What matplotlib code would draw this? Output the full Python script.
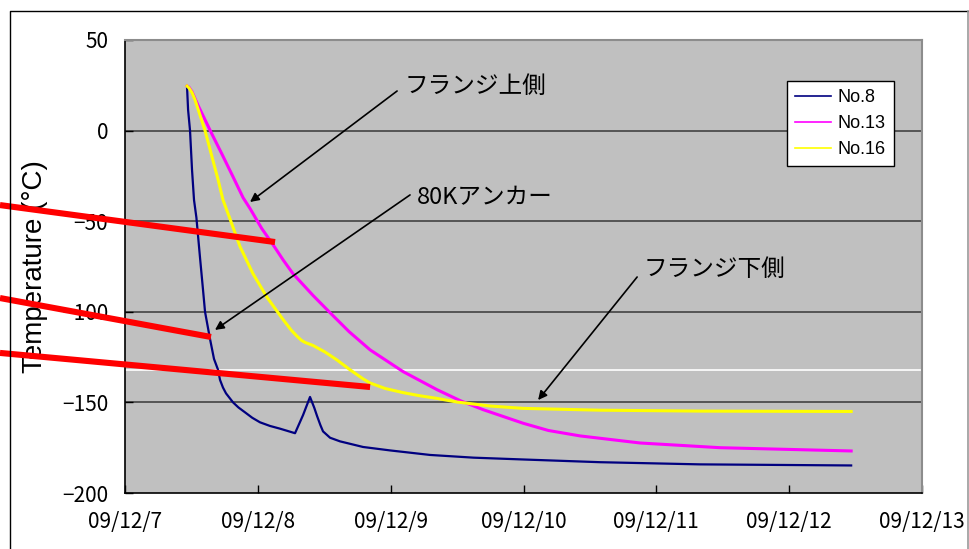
import matplotlib
matplotlib.use("Agg")
import matplotlib.pyplot as plt
import pandas as pd
from matplotlib.lines import Line2D

# Cool-down record, hours elapsed since 2009-12-07 00:00
start = pd.Timestamp("2009-12-07 00:00")

no8_hours = [11.20, 11.40, 11.75, 12.11, 12.47, 12.90, 13.55, 14.10, 14.46, 15.36, 16.08,
             16.81, 17.17, 17.70, 18.25, 19.52, 20.50, 21.69, 23.00, 24.40, 26.20, 28.01, 30.72,
             32.17, 33.43, 34.20, 34.70, 35.30, 35.78, 37.05, 38.85, 43.01, 47.89, 55.12,
             63.00, 71.93, 85.84, 103.91, 131.20]
no8_temp = [24.6, 11.4, 0.0, -21.7, -38.3, -48.0, -70.0, -88.0, -100.0, -115.0, -126.0,
            -132.0, -137.6, -141.8, -145.0, -150.0, -152.8, -155.5, -158.5, -161.0, -163.0, -164.5, -167.0,
            -157.0, -147.0, -153.0, -157.5, -162.5, -166.0, -169.5, -171.5, -174.6, -176.5, -179.0,
            -180.5, -181.5, -183.0, -184.2, -184.8]

no13_hours = [11.20, 11.55, 12.10, 13.19, 15.72, 17.52, 19.52, 21.33, 22.59, 24.70, 26.75,
              28.60, 30.36, 33.98, 37.05, 40.50, 44.28, 50.24, 56.39, 60.54, 64.70, 71.93,
              76.50, 82.23, 93.07, 107.53, 131.20]
no13_temp = [24.6, 24.0, 21.5, 14.0, -2.0, -13.0, -25.5, -37.0, -43.0, -54.0, -63.0,
             -71.5, -79.0, -91.0, -100.5, -111.0, -121.0, -133.0, -143.0, -149.0, -154.0, -161.5,
             -165.5, -168.5, -172.4, -175.0, -176.8]

no16_hours = [11.20, 11.57, 12.10, 12.65, 14.46, 15.72, 16.81, 17.71, 18.98, 20.78, 23.13,
              25.66, 28.37, 30.00, 31.08, 31.90, 32.53, 33.98, 36.14, 38.31, 40.66, 43.01,
              44.28, 46.99, 50.24, 53.20, 56.39, 60.00, 65.96, 71.93, 85.84, 103.91, 131.20]
no16_temp = [24.6, 23.5, 21.0, 17.0, 0.0, -14.5, -27.0, -38.3, -48.8, -64.0, -79.0,
             -92.0, -103.5, -110.0, -113.5, -115.8, -116.9, -118.6, -122.2, -126.6, -132.0, -137.0,
             -139.3, -142.3, -144.6, -146.3, -147.8, -149.8, -152.0, -153.3, -154.3, -154.8, -155.0]

series_names = ["No.8", "No.13", "No.16"]
series_colors = ["#000080", "#FF00FF", "#FFFF00"]

tick_labels = ["09/12/7", "09/12/8", "09/12/9", "09/12/10", "09/12/11", "09/12/12", "09/12/13"]
y_ticks = [-200, -150, -100, -50, 0, 50]

# Callout notes: text, text anchor (hours, temp), arrow tail, arrow head
notes = [
    ("フランジ上側", (50.6, 24.6), (49.16, 21.85), (22.59, -39.4)),
    ("80Kアンカー", (52.77, -37.2), (51.5, -35.5), (16.26, -110.0)),
    ("フランジ下側", (93.61, -76.9), (92.53, -80.8), (74.64, -148.7)),
]

# Red marker strokes: (start hours, start temp, end hours, end temp)
red_strokes = [
    (-22.59, -41.1, 27.11, -61.5),
    (-22.59, -92.4, 15.54, -113.9),
    (-22.59, -122.7, 44.28, -141.5),
]


def to_time(hours):
    return start + pd.to_timedelta(hours, unit="h")


fig = plt.figure(figsize=(9.70, 5.49), dpi=100)
ax = fig.add_axes([125 / 970, 1 - 493 / 549, 797 / 970, 453 / 549])
ax.set_facecolor("#C0C0C0")

# gridlines
for v in [-150, -100, -50, 0]:
    ax.axhline(v, color="#383838", lw=1.1, zorder=1)
ax.axhline(-132.1, color="white", lw=1.2, zorder=1)

series = [(no8_hours, no8_temp), (no13_hours, no13_temp), (no16_hours, no16_temp)]
widths = [1.6, 2.2, 2.2]
for (h, t), name, col, w in zip(series, series_names, series_colors, widths):
    ax.plot(to_time(h), t, color=col, lw=w, label=name, zorder=3, solid_joinstyle="round")

ax.set_ylim(-200, 50)
ax.set_yticks(y_ticks)
ax.set_yticklabels([str(v).replace("-", "−") for v in y_ticks])
ticks = [start + pd.Timedelta(days=i) for i in range(len(tick_labels))]
ax.set_xlim(ticks[0], ticks[-1])
ax.set_xticks(ticks)
ax.set_xticklabels(tick_labels)

for lab in ax.get_xticklabels() + ax.get_yticklabels():
    lab.set_fontfamily(["Noto Sans CJK JP", "DejaVu Sans"])
    lab.set_fontsize(15)
ax.tick_params(axis="y", direction="in", length=6, width=1, pad=12, left=True, right=False)
ax.tick_params(axis="x", direction="in", length=6, width=1, pad=13, bottom=True, top=False)

for s in ["left", "bottom"]:
    ax.spines[s].set_color("black")
    ax.spines[s].set_linewidth(1.2)
for s in ["top", "right"]:
    ax.spines[s].set_color("#8c8c8c")
    ax.spines[s].set_linewidth(1.5)

ax.set_ylabel("Temperature (°C)", fontsize=20, family=["Liberation Sans", "DejaVu Sans"])
ax.yaxis.set_label_coords(-0.097, 0.5)

leg = ax.legend(loc="upper left", bbox_to_anchor=(787 / 970, 1 - 81 / 549),
                bbox_transform=fig.transFigure, borderaxespad=0, fancybox=False,
                framealpha=1, edgecolor="black", prop={"family": "Liberation Sans", "size": 13},
                handlelength=2.0, handletextpad=0.35, labelspacing=0.5, borderpad=0.45)
leg.get_frame().set_linewidth(1.0)
for line in leg.get_lines():
    line.set_linewidth(1.2)

for text, tpos, tail, head in notes:
    ax.annotate("", xy=(to_time(head[0]), head[1]), xytext=(to_time(tail[0]), tail[1]),
                arrowprops=dict(arrowstyle="-|>", color="black", lw=1.2, mutation_scale=13,
                                shrinkA=0, shrinkB=0), zorder=4)
    ax.text(to_time(tpos[0]), tpos[1], text, ha="left", va="center", fontsize=17,
            family=["Noto Sans CJK JP", "DejaVu Sans"], zorder=4)

for h0, t0, h1, t1 in red_strokes:
    ax.add_line(Line2D([to_time(h0), to_time(h1)], [t0, t1], color="#FF0000", lw=4.4,
                       solid_capstyle="butt", clip_on=False, zorder=6))

# outer chart frame
fx0, fx1, fy1 = 10.5 / 970, 968.5 / 970, 1 - 10.5 / 549
fig.add_artist(Line2D([fx0, fx0, fx1], [0, fy1, fy1], color="black", lw=1.0, transform=fig.transFigure))
fig.add_artist(Line2D([fx1, fx1], [fy1, 0], color="#9a9a9a", lw=1.2, transform=fig.transFigure))

fig.savefig("out.png", dpi=100)
